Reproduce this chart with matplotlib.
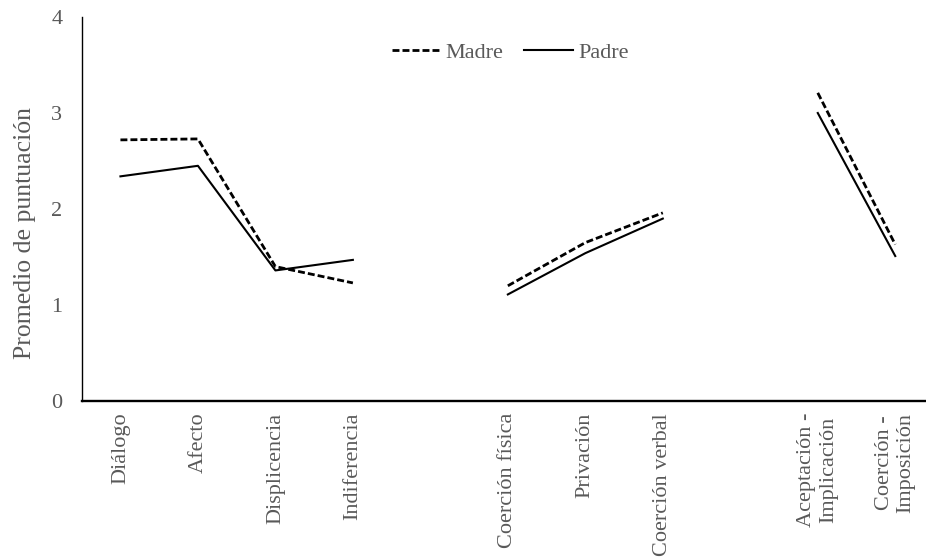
import numpy as np
import matplotlib.pyplot as plt

plt.rcParams['font.family'] = ['Liberation Serif', 'DejaVu Serif']

# Empty strings leave a gap between the three groups of scales
categorias = ['Diálogo', 'Afecto', 'Displicencia', 'Indiferencia', '',
              'Coerción física', 'Privación', 'Coerción verbal', '',
              'Aceptación -\nImplicación', 'Coerción -\nImposición']
madre = [2.72, 2.73, 1.40, 1.23, np.nan, 1.20, 1.65, 1.96, np.nan, 3.21, 1.63]
padre = [2.34, 2.45, 1.36, 1.47, np.nan, 1.11, 1.54, 1.90, np.nan, 3.00, 1.51]
y_ticks = [0, 1, 2, 3, 4]

gris = '#595959'

fig = plt.figure(figsize=(9.26, 5.57), dpi=100)
# the category axis runs a little past the right edge of the figure
ax = fig.add_axes([81.7 / 926, 156 / 557, (934 - 81.7) / 926, 384 / 557])

x = np.arange(len(categorias))
ax.plot(x, madre, color='black', lw=2.0, linestyle=(0, (2.5, 1.1)), label='Madre')
ax.plot(x, padre, color='black', lw=1.5, label='Padre')

ax.set_xlim(-0.5, len(categorias) - 0.5)
ax.set_ylim(0, 4)
ax.set_yticks(y_ticks)
ax.set_xticks(x)
ax.set_xticklabels(categorias, rotation=90, ha='center', va='top',
                   multialignment='center')

ax.tick_params(axis='y', length=0, pad=14, labelsize=16, labelcolor=gris)
ax.tick_params(axis='x', length=0, pad=8.5, labelsize=16, labelcolor=gris)

for lado in ['top', 'right']:
    ax.spines[lado].set_visible(False)
ax.spines['left'].set_linewidth(1.0)
ax.spines['bottom'].set_linewidth(1.7)

ax.set_ylabel('Promedio de puntuación', fontsize=18.5, color=gris)
ax.yaxis.set_label_coords(-0.054, 0.4375)

fig.legend(loc='center', bbox_to_anchor=(0.551, 0.905), ncol=2, frameon=False,
           fontsize=16, labelcolor=gris, handlelength=2.2, handletextpad=0.22,
           columnspacing=0.95)

fig.savefig('out.png', dpi=100)
